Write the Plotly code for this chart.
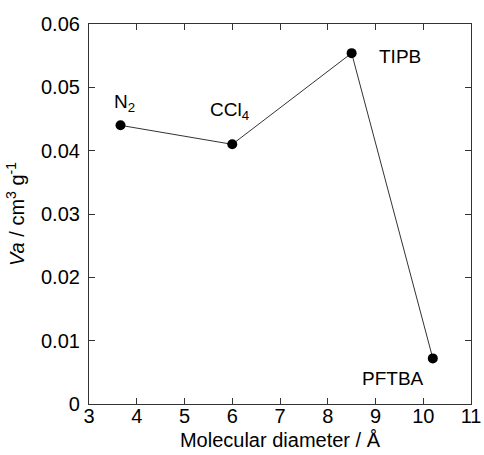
import plotly.graph_objects as go

diameter = [3.66, 6.0, 8.5, 10.2]
va = [0.0440, 0.0410, 0.0554, 0.0072]
labels = ["N<sub>2</sub>", "CCl<sub>4</sub>", "TIPB", "PFTBA"]
label_x = [3.75, 5.95, 9.51, 9.37]
label_y = [0.0476, 0.0463, 0.0549, 0.0041]

font = "Liberation Sans, Arial, sans-serif"

fig = go.Figure()
fig.add_trace(go.Scatter(
    x=diameter, y=va, mode="lines+markers",
    line=dict(color="#333333", width=1),
    marker=dict(color="black", size=10),
    showlegend=False, hoverinfo="skip",
))
for t, x, y in zip(labels, label_x, label_y):
    fig.add_annotation(x=x, y=y, text=t, showarrow=False,
                       font=dict(family=font, size=19, color="black"))

axis_common = dict(
    showgrid=False, zeroline=False, showline=True, linecolor="#333333", linewidth=1.2,
    mirror="ticks", ticks="inside", ticklen=6, tickcolor="#333333", tickwidth=1,
    tickfont=dict(family=font, size=20, color="black"), automargin=False,
)
fig.update_xaxes(range=[3, 11], tickvals=list(range(3, 12)), ticklabelstandoff=-6,
                 title=dict(text="Molecular diameter / Å", font=dict(family=font, size=20, color="black"), standoff=6),
                 **axis_common)
fig.update_yaxes(range=[0, 0.06], tickvals=[0, 0.01, 0.02, 0.03, 0.04, 0.05, 0.06],
                 ticktext=["0", "0.01", "0.02", "0.03", "0.04", "0.05", "0.06"], ticklabelstandoff=4,
                 title=dict(text="<i>Va</i> / cm<sup>3</sup> g<sup>-1</sup>", font=dict(family=font, size=20, color="black"), standoff=10),
                 **axis_common)
fig.update_layout(
    width=484, height=455,
    margin=dict(l=89, r=13, t=24, b=51),
    plot_bgcolor="white", paper_bgcolor="white",
)
fig.write_html("out.html", config={"displayModeBar": False},
               post_script="document.body.style.margin='0';document.body.style.overflow='hidden';")
